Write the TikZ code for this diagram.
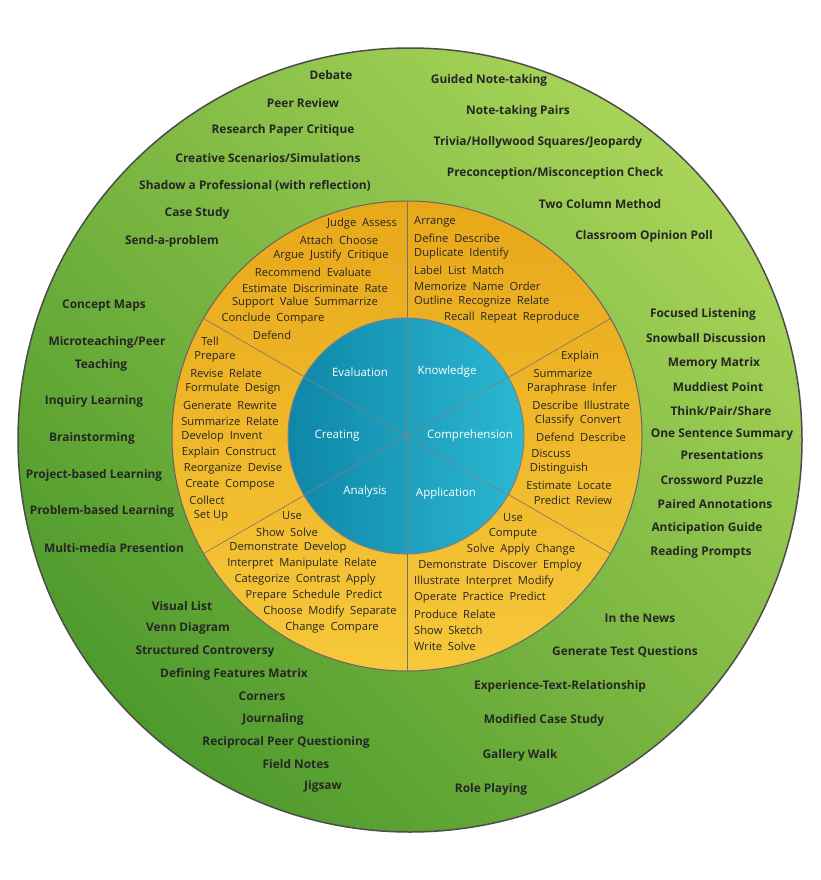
\documentclass[tikz,border=0pt]{standalone}
\usepackage{fontspec}
\setmainfont{Open Sans}
\begin{document}
\begin{tikzpicture}[x=1pt,y=-1pt,
 o/.style={font=\fontsize{11.9}{13}\selectfont\bfseries,text=black!85},
 i/.style={font=\fontsize{11.2}{12}\selectfont,text=black!85,inner sep=0pt},
 b/.style={font=\fontsize{11.5}{12}\selectfont,text=white}]
\definecolor{gdark}{HTML}{4E9A2C}\definecolor{glight}{HTML}{A8D458}
\definecolor{odark}{HTML}{E8A81A}\definecolor{olight}{HTML}{F6C83A}
\definecolor{bdark}{HTML}{0E86A8}\definecolor{blight}{HTML}{2CB8D2}
\useasboundingbox (0,0) rectangle (820,880);
\fill[white] (0,0) rectangle (820,880);
\shade[left color=gdark,right color=glight,shading angle=135,draw=black!70,line width=1.5pt] (410,440) circle (392);
\shade[top color=odark,bottom color=olight,draw=black!60,line width=1pt] (407,436) circle (235);
\draw[black!55,line width=0.6pt] (407,201) -- (407,671);
\draw[black!55,line width=0.6pt] (407,436) -- +(30:235) (407,436) -- +(150:235) (407,436) -- +(210:235) (407,436) -- +(330:235);
\shade[left color=bdark,right color=blight,draw=black!50,line width=1pt] (406,436) circle (118);
\draw[black!50,line width=0.6pt] (406,318) -- (406,554);
\draw[black!50,line width=0.6pt] (406,436) -- +(30:118) (406,436) -- +(150:118) (406,436) -- +(210:118) (406,436) -- +(330:118);
\node[b] (bev) at (360,372) {Evaluation};
\node[b] (bkn) at (447,372) {Knowledge};
\node[b] (bcr) at (337,436) {Creating};
\node[b] (bco) at (470,436) {Comprehension};
\node[b] (ban) at (365,492) {Analysis};
\node[b] (bap) at (446,494) {Application};
% outer
\foreach \t/\x/\y [count=\n] in {Debate/331/75,Peer Review/303/103,Research Paper Critique/283/130,Creative Scenarios{/}Simulations/268/158,Shadow a Professional (with reflection)/255/186,Case Study/197/213,Send-a-problem/172/241,
Guided Note-taking/489/80,Note-taking Pairs/518/111,Trivia{/}Hollywood Squares{/}Jeopardy/538/142,Preconception{/}Misconception Check/555/173,Two Column Method/600/204,Classroom Opinion Poll/644/236,
Concept Maps/104/306,Microteaching{/}Peer/107/342,Teaching/101/365,Inquiry Learning/94/401,Brainstorming/92/438,Project-based Learning/94/475,Problem-based Learning/102/511,Multi-media Presention/114/548,
Focused Listening/703/314,Snowball Discussion/706/338,Memory Matrix/714/363,Muddiest Point/718/387,Think{/}Pair{/}Share/721/411,One Sentence Summary/722/435,Presentations/722/455,Crossword Puzzle/712/480,Paired Annotations/715/504,Anticipation Guide/707/528,Reading Prompts/701/552,
Visual List/182/606,Venn Diagram/188/628,Structured Controversy/205/651,Defining Features Matrix/234/674,Corners/262/696,Journaling/273/719,Reciprocal Peer Questioning/286/742,Field Notes/296/764,Jigsaw/323/786,
In the News/640/618,Generate Test Questions/625/652,Experience-Text-Relationship/560/686,Modified Case Study/544/720,Gallery Walk/520/755,Role Playing/491/789}
 \node[o] (o\n) at (\x,\y) {\t};
% inner ring
\foreach \t/\x/\y [count=\n] in {Judge~~Assess/362/224,Attach~~Choose/339/240,Argue~~Justify~~Critique/331/256,Recommend~~Evaluate/313/272,Estimate~~Discriminate~~Rate/315/288,Support~~Value~~Summarrize/305/303,Conclude~~Compare/273/319,Defend/272/335,
Explain/580/357,Summarize/563/373,Paraphrase~~Infer/572/389,Describe~~Illustrate/581/405,Classify~~Convert/578/421,Defend~~Describe/581/437,Discuss/551/453,Distinguish/559/469,Estimate~~Locate/569/485,Predict~~Review/573/500,
Use/513/518,Compute/513/534,Solve~~Apply~~Change/521/550,Demonstrate~~Discover~~Employ/500/566,
Use/292/516,Show~~Solve/287/532,Demonstrate~~Develop/288/548,Interpret~~Manipulate~~Relate/302/564,Categorize~~Contrast~~Apply/305/580,Prepare~~Schedule~~Predict/314/596,Choose~~Modify~~Separate/330/612,Change~~Compare/332/628,
Tell/210/341,Prepare/215/357,Revise~~Relate/226/373,Formulate~~Design/233/389,Generate~~Rewrite/230/405,Summarize~~Relate/230/421,Develop~~Invent/222/437,Explain~~Construct/229/453,Reorganize~~Devise/233/469,Create~~Compose/230/485,Collect/207/500,Set~Up/211/516}
 \node[i] (i\n) at (\x,\y) {\t};
\foreach \t/\y [count=\n] in {Arrange/222,Define~~Describe/238,Duplicate~~Identify/254,Label~~List~~Match/270,Memorize~~Name~~Order/286,Outline~~Recognize~~Relate/302,Illustrate~~Interpret~~Modify/582,Operate~~Practice~~Predict/598,Produce~~Relate/614,Show~~Sketch/630,Write~~Solve/646}
 \node[i,anchor=west] (k\n) at (414,\y) {\t};
\node[i,anchor=west] (k12) at (444,318) {Recall~~Repeat~~Reproduce};
\end{tikzpicture}
\end{document}
